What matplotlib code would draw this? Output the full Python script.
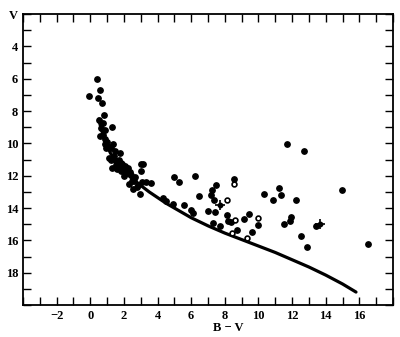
import matplotlib
matplotlib.use("agg")
import matplotlib.pyplot as plt
from matplotlib.ticker import MultipleLocator

# filled stars (B-V, V)
bv = [0.42, 0.55, -0.08, 0.46, 0.71,
      0.83, 0.54, 0.75, 0.65, 1.3, 0.9, 0.73, 0.6, 0.85, 1.0, 0.85,
      1.35, 1.1, 0.95, 1.25, 1.45, 1.74, 1.13, 1.4, 1.25, 1.5, 1.7,
      1.85, 1.55, 2.04, 2.14, 2.24, 1.85, 1.3, 1.6, 2.1, 2.34, 2.4,
      3.04, 3.13, 3.0, 2.64, 2.6, 2.84, 2.8, 3.1, 3.3, 3.63, 2.93,
      2.54, 2.3, 2.5, 2.0, 1.9,
      4.33, 4.52, 4.92, 5.55, 6.0, 6.1, 5.0, 5.3, 6.2, 6.47,
      7.17, 7.26, 7.46, 7.34, 7.0, 7.44, 7.3, 7.7, 8.1, 8.2, 8.35,
      8.55, 8.75, 9.13, 9.44, 9.98, 9.62,
      10.33, 10.87, 11.23, 11.33, 12.26, 11.52, 11.86, 11.96, 12.5,
      12.86, 13.4, 14.98, 16.53, 11.67, 12.72]
vmag = [6.0, 6.7, 7.04, 7.2, 7.5,
        8.25, 8.56, 8.75, 9.05, 8.96, 9.15, 9.48, 9.55, 9.7, 9.9, 10.05,
        10.05, 10.2, 10.3, 10.3, 10.5, 10.6, 10.9, 10.8, 11.0, 11.1, 11.0,
        11.2, 11.35, 11.4, 11.5, 11.55, 11.7, 11.5, 11.6, 11.85, 11.8, 11.95,
        11.3, 11.3, 11.7, 12.1, 12.3, 12.55, 12.7, 12.4, 12.4, 12.45, 13.16,
        12.85, 12.5, 12.3, 12.0, 11.3,
        13.37, 13.57, 13.77, 13.8, 14.1, 14.3, 12.1, 12.4, 12.0, 13.26,
        13.17, 12.86, 12.55, 13.5, 14.2, 14.25, 14.9, 15.1, 14.45, 14.8, 14.85,
        12.2, 15.37, 14.65, 14.39, 15.04, 15.47,
        13.12, 13.53, 12.75, 13.2, 13.5, 15.0, 14.8, 14.53, 15.7,
        16.4, 15.1, 12.9, 16.2, 10.03, 10.44]

# open circles
bv_open = [8.55, 8.15, 8.6, 8.43, 9.98, 9.3]
v_open = [12.5, 13.5, 14.74, 15.57, 14.59, 15.86]

# crosses
bv_cross = [7.7, 13.65]
v_cross = [13.8, 15.0]

# main sequence line
ms_bv = [0.5, 0.65, 0.8, 1.0, 1.2, 1.45, 1.7, 2.0, 2.3, 2.65, 3.0, 3.5, 4.0, 4.5, 5.0,
         6.0, 7.0, 8.0, 9.0, 10.0, 11.0, 12.0, 13.0, 14.0, 15.0, 15.8]
ms_v = [8.5, 9.1, 9.6, 10.15, 10.6, 11.0, 11.35, 11.7, 12.0, 12.3, 12.6, 13.0, 13.35, 13.7, 14.0,
        14.6, 15.1, 15.55, 15.95, 16.35, 16.75, 17.2, 17.65, 18.15, 18.7, 19.2]

plt.rcParams['font.family'] = ['Liberation Serif', 'DejaVu Serif']

fig = plt.figure(figsize=(4.0, 3.37), dpi=100)
ax = fig.add_axes([0.0575, 0.095, 0.925, 0.863])

ax.plot(ms_bv, ms_v, color='black', lw=2.3, solid_capstyle='round')
ax.scatter(bv, vmag, s=15, color='black', zorder=3)
ax.scatter(bv_open, v_open, s=12, facecolor='white', edgecolor='black', lw=1.2, zorder=3)
ax.scatter(bv_cross, v_cross, s=10, color='black', zorder=3)
ax.scatter(bv_cross, v_cross, s=50, marker='+', color='black', lw=1.2, zorder=3)

ax.set_xlim(-4, 18)
ax.set_ylim(20, 2)

ax.set_xticks(range(-2, 17, 2))
ax.set_xticklabels(['\u22122' if t < 0 else str(t) for t in range(-2, 17, 2)])
ax.xaxis.set_minor_locator(MultipleLocator(1))
ax.set_yticks(range(2, 19, 2))
ax.set_yticklabels(['V'] + [str(t) for t in range(4, 19, 2)])
ax.yaxis.set_minor_locator(MultipleLocator(1))

ax.tick_params(which='both', direction='in', top=True, right=True,
               length=6, width=1.0, labelsize=9, pad=3.5)
for lab in ax.get_xticklabels() + ax.get_yticklabels():
    lab.set_fontweight('bold')
for sp in ax.spines.values():
    sp.set_linewidth(1.3)

ax.text(0.554, -0.078, 'B \u2212 V', transform=ax.transAxes, ha='center',
        va='center', fontsize=9, fontweight='bold')

fig.savefig('out.png', dpi=100, facecolor='w')
